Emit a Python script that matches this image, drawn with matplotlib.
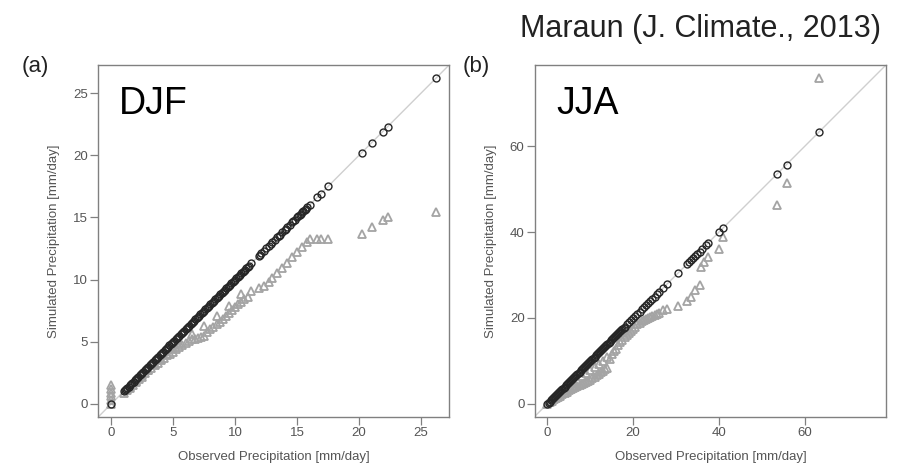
import numpy as np
import matplotlib
matplotlib.use("Agg")
import matplotlib.pyplot as plt

plt.rcParams['font.family'] = ['Liberation Sans', 'DejaVu Sans']

# ---- DJF (a) ----
# bias-corrected quantiles (they sit on the 1:1 line)
djf_circ = [0.0,
            1.0, 1.1, 1.2, 1.3, 1.4, 1.5, 1.6, 1.7, 1.8, 1.9, 2.0, 2.1, 2.2, 2.3, 2.4,
            2.5, 2.6, 2.7, 2.8, 2.9, 3.0, 3.1, 3.2, 3.3, 3.4, 3.5, 3.6, 3.7, 3.8, 3.9,
            4.0, 4.1, 4.2, 4.3, 4.4, 4.5, 4.6, 4.7, 4.8, 4.9, 5.0, 5.1, 5.2, 5.3, 5.4,
            5.5, 5.6, 5.7, 5.8, 5.9, 6.0, 6.1, 6.2, 6.3, 6.4, 6.5, 6.6, 6.7, 6.8, 6.9,
            7.0, 7.1, 7.2, 7.3, 7.4, 7.5, 7.6, 7.7, 7.8, 7.9, 8.0, 8.1, 8.2, 8.3, 8.4,
            8.5, 8.6, 8.7, 8.8, 8.9, 9.0, 9.1, 9.2, 9.3, 9.4, 9.5, 9.6, 9.7, 9.8, 9.9,
            10.0, 10.1, 10.2, 10.3, 10.4, 10.5, 10.6, 10.7, 10.8, 10.9, 11.0, 11.1, 11.3,
            11.9, 12.0, 12.1, 12.3, 12.5, 12.7, 12.9, 13.0, 13.2, 13.4, 13.5, 13.6, 13.8,
            14.0, 14.1, 14.2, 14.4, 14.6, 14.7, 14.8, 15.0, 15.1, 15.2, 15.3, 15.4, 15.5,
            15.6, 15.7, 15.8, 16.0,
            16.6, 16.9, 17.5, 20.2, 21.0, 21.9, 22.3, 26.2]

# raw model quantiles (observed vs simulated)
djf_obs = [0, 0, 0, 0, 0, 0,
           1.0, 1.25, 1.5, 1.75, 2.0, 2.25, 2.5, 2.75, 3.0, 3.25, 3.5, 3.75, 4.0, 4.25,
           4.5, 4.75, 5.0, 5.25, 5.5, 5.75, 6.0, 6.25, 6.5, 6.75, 7.0, 7.25, 7.5, 7.75,
           8.0, 8.25, 8.5, 8.75, 9.0, 9.25, 9.5, 9.75, 10.0, 10.25, 10.5, 10.75, 11.0,
           11.3, 11.9, 12.3, 12.7, 13.0, 13.4, 13.8, 14.2, 14.6, 15.0, 15.4, 15.8, 16.0,
           16.6, 16.9, 17.5, 20.2, 21.0, 21.9, 22.3, 26.2,
           # upper edge of the dense grey band
           1.5, 2.0, 2.5, 3.0, 3.5, 4.0, 4.5, 5.0, 5.5, 6.5, 7.5, 8.5, 9.5, 10.5]
djf_sim = [0.0, 0.3, 0.6, 0.9, 1.2, 1.5,
           0.9, 1.1, 1.3, 1.55, 1.8, 2.0, 2.2, 2.45, 2.7, 2.9, 3.1, 3.3, 3.5, 3.7,
           3.9, 4.05, 4.2, 4.4, 4.6, 4.75, 4.9, 5.1, 5.2, 5.25, 5.3, 5.4, 5.5, 5.75,
           6.0, 6.2, 6.4, 6.6, 6.8, 7.05, 7.3, 7.55, 7.8, 8.0, 8.2, 8.4, 8.6,
           9.1, 9.3, 9.5, 9.8, 10.1, 10.5, 10.9, 11.3, 11.8, 12.2, 12.6, 13.0, 13.3,
           13.3, 13.3, 13.3, 13.7, 14.2, 14.8, 15.0, 15.4,
           1.4, 1.85, 2.3, 2.75, 3.2, 3.6, 4.0, 4.5, 4.9, 5.6, 6.3, 7.1, 7.9, 8.8]

# ---- JJA (b) ----
jja_circ = [0, 0.25, 0.5, 0.75, 1, 1.25, 1.5, 1.75, 2, 2.25, 2.5, 2.75, 3, 3.25, 3.5,
            3.75, 4, 4.25, 4.5, 4.75, 5, 5.25, 5.5, 5.75, 6, 6.25, 6.5, 6.75, 7, 7.25,
            7.5, 7.75, 8, 8.25, 8.5, 8.75, 9, 9.25, 9.5, 9.75, 10, 10.25, 10.5, 10.75,
            11, 11.25, 11.5, 11.75, 12, 12.25, 12.5, 12.75, 13, 13.25, 13.5, 13.75, 14,
            14.25, 14.5, 14.75, 15, 15.25, 15.5, 15.75, 16, 16.25, 16.5, 16.75, 17,
            17.25, 17.5, 17.75, 18,
            18.5, 19, 19.5, 20, 20.5, 21, 21.5, 22, 22.5, 23, 23.5, 24,
            24.5, 25, 25.5, 26, 27, 28, 30.5, 32.5, 33, 33.5, 34, 34.5, 35, 35.5, 36,
            37, 37.5, 40, 41, 53.5, 55.8, 63.3]

jja_obs = [0, 0.5, 1, 1.5, 2, 2.5, 3, 3.5, 4, 4.5, 5, 5.5, 6, 6.5, 7, 7.5, 8, 8.5, 9,
           9.5, 10, 10.5, 11, 11.5, 12, 12.5, 13, 13.5, 14,
           14.5, 15, 15.5, 16, 16.5, 17, 17.5, 18, 18.5, 19, 19.5, 20, 20.5, 21, 21.5,
           22, 22.5, 23, 23.5, 24, 24.5, 25, 25.5, 26,
           27, 28, 30.5, 32.5, 33.5, 34.5, 35.5, 35.8, 36.5, 37.5, 40, 41, 53.5, 55.8, 63.3,
           # upper edge of the dense grey band
           2, 3, 4, 5, 6, 7, 8, 9, 10, 11, 12, 13, 14]
jja_sim = [0, 0.35, 0.7, 1.0, 1.3, 1.6, 1.9, 2.2, 2.5, 2.8, 3.1, 3.35, 3.6, 3.85, 4.1,
           4.3, 4.5, 4.75, 5.0, 5.3, 5.6, 5.95, 6.3, 6.65, 7.0, 7.3, 7.6, 8.0, 8.4,
           10.5, 11.5, 12.2, 12.8, 13.6, 14.3, 14.9, 15.5, 16.0, 16.5, 17.0, 17.5, 18.0,
           18.5, 18.9, 19.2, 19.5, 19.8, 20.0, 20.3, 20.5, 20.7, 21.0, 21.2,
           21.8, 22.2, 22.8, 24.0, 24.8, 26.5, 27.8, 32.0, 33.0, 34.2, 36.2, 38.8, 46.3,
           51.5, 76.0,
           1.6, 2.4, 3.2, 4.0, 4.8, 5.6, 6.4, 7.1, 7.8, 8.5, 9.3, 10.0, 10.8]

panels = [
    ("(a)", "DJF", djf_circ, djf_obs, djf_sim, [0, 5, 10, 15, 20, 25], [0, 5, 10, 15, 20, 25],
     (-1.05, 27.25), (-1.05, 27.25), 0.108, 0.024),
    ("(b)", "JJA", jja_circ, jja_obs, jja_sim, [0, 20, 40, 60], [0, 20, 40, 60],
     (-2.9, 79.0), (-3.1, 79.0), 0.5886, 0.509),
]

fig = plt.figure(figsize=(9.09, 4.68), dpi=100)

for tag, season, circ, obs, sim, xt, yt, xl, yl, left, tagx in panels:
    ax = fig.add_axes([left, 0.109, 0.386, 0.752])
    ax.axline((0, 0), slope=1, color="#cfcfcf", lw=1.0, zorder=1)
    ax.plot(obs, sim, linestyle="none", marker="^", markersize=5.4, mfc="none",
            mec="#a4a4a4", mew=1.3, zorder=2)
    ax.plot(circ, circ, linestyle="none", marker="o", markersize=5.0, mfc="none",
            mec="#262626", mew=1.0, zorder=3)
    ax.set_xlim(*xl)
    ax.set_ylim(*yl)
    ax.set_xticks(xt)
    ax.set_yticks(yt)
    for s in ax.spines.values():
        s.set_color("#808080")
        s.set_linewidth(1.0)
    ax.tick_params(colors="#808080", labelcolor="#555555", labelsize=9.5, length=5.5,
                   width=0.9, pad=2)
    ax.set_xlabel("Observed Precipitation [mm/day]", fontsize=9.5, color="#555555", labelpad=8)
    ax.set_ylabel("Simulated Precipitation [mm/day]", fontsize=9.5, color="#555555", labelpad=9)
    ax.text(0.06, 0.86, season, transform=ax.transAxes, fontsize=27, color="black")
    fig.text(tagx, 0.846, tag, fontsize=16, color="#222222")

fig.text(0.572, 0.921, "Maraun (J. Climate., 2013)", ha="left", fontsize=22, color="#222222")

fig.savefig("out.png", dpi=100)
